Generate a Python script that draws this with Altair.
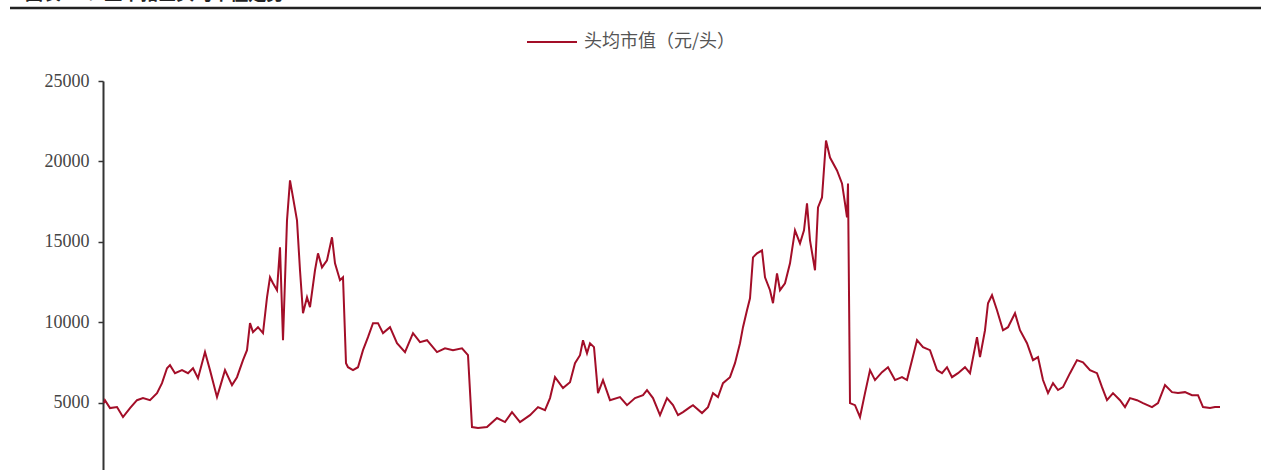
import altair as alt
import pandas as pd

# time position (relative units along the x axis) and value (元/头)
t = [0, 1, 6, 13, 19, 26, 33, 39, 46, 53, 58, 63, 66, 71, 78, 84, 89, 94, 101, 106,
     113, 116, 121, 128, 133, 139, 143, 146, 149, 154, 159, 163, 166, 169, 173, 176, 179, 183, 186, 189,
     193, 196, 199, 203, 206, 211, 214, 218, 223, 228, 231, 236, 239, 242, 244, 249, 254, 259, 264, 269,
     274, 279, 286, 293, 301, 309, 316, 323, 333, 341, 349, 358, 364, 368, 374, 383, 393, 401, 408, 416,
     426, 434, 441, 446, 451, 459, 466, 471, 476, 479, 483, 486, 490, 494, 499, 506, 516, 523, 531, 539,
     543, 549, 556, 563, 569, 574, 579, 586, 589, 598, 604, 609, 614, 619, 626, 631, 636, 639, 643, 646,
     649, 653, 658, 661, 666, 669, 673, 676, 681, 686, 691, 696, 700, 703, 706, 711, 714, 718, 722, 726,
     733, 738, 741, 743, 744, 746, 751, 756, 761, 766, 771, 778, 784, 791, 798, 803, 808, 813, 819, 826,
     833, 838, 843, 848, 854, 861, 866, 873, 876, 881, 884, 888, 893, 899, 904, 911, 916, 923, 929, 934,
     939, 944, 949, 954, 959, 966, 973, 979, 986, 993, 998, 1003, 1009, 1016, 1021, 1026, 1033, 1039, 1048, 1054,
     1061, 1068, 1074, 1081, 1088, 1094, 1099, 1106, 1111, 1116]
v = [4970, 5150, 4660, 4720, 4100, 4660, 5150, 5280, 5150, 5590, 6210, 7140, 7330, 6830, 7020, 6830, 7140, 6520, 8140, 7020,
     5340, 5960, 7020, 6090, 6580, 7640, 8260, 9940, 9380, 9690, 9320, 11550, 12790, 12420, 11990, 14660, 8880, 16330, 18820, 17760,
     16330, 13230, 10560, 11550, 10930, 13230, 14280, 13410, 13850, 15280, 13660, 12610, 12790, 7450, 7200, 7020, 7200, 8260, 9070, 9940,
     9940, 9320, 9690, 8690, 8140, 9320, 8760, 8880, 8140, 8380, 8260, 8380, 7950, 3480, 3420, 3480, 4040, 3790, 4410, 3790,
     4220, 4720, 4530, 5280, 6580, 5900, 6270, 7450, 7950, 8880, 8070, 8690, 8450, 5590, 6400, 5150, 5340, 4840, 5280, 5460,
     5780, 5280, 4220, 5280, 4840, 4220, 4410, 4720, 4840, 4350, 4720, 5590, 5340, 6210, 6580, 7450, 8690, 9690, 10740, 11490,
     14030, 14280, 14470, 12790, 11990, 11180, 13040, 11990, 12420, 13660, 15710, 14900, 15710, 17390, 15090, 13230, 17140, 17760, 21300, 20240,
     19440, 18630, 17390, 16520, 18630, 4970, 4840, 4100, 5590, 7020, 6400, 6890, 7200, 6400, 6580, 6400, 7640, 8880, 8450, 8260,
     7020, 6830, 7200, 6580, 6830, 7200, 6830, 9070, 7830, 9500, 11180, 11680, 10740, 9500, 9690, 10560, 9500, 8690, 7640, 7830,
     6400, 5590, 6210, 5780, 5960, 6830, 7640, 7510, 7020, 6830, 5960, 5150, 5590, 5150, 4720, 5280, 5150, 4970, 4720, 4970,
     6090, 5650, 5590, 5650, 5460, 5460, 4720, 4660, 4720, 4720]

y_ticks = [5000, 10000, 15000, 20000, 25000]
series_name = "头均市值（元/头）"
title_text = "图表 20：上市猪企头均市值走势"

LINE_COLOR = "#A30E28"

df = pd.DataFrame({"t": t, "v": v})
one = pd.DataFrame({"k": [0]})

x_scale = alt.Scale(domain=[-1, 1136], nice=False, zero=False)
y_scale = alt.Scale(domain=[808, 25000], nice=False, zero=False)

line = alt.Chart(df).mark_line(color=LINE_COLOR, strokeWidth=2).encode(
    x=alt.X("t:Q", scale=x_scale, axis=None),
    y=alt.Y("v:Q", scale=y_scale,
            axis=alt.Axis(values=y_ticks, title=None, grid=False, format="d",
                          labelFont="Liberation Serif", labelFontSize=18, labelColor="#444",
                          domainColor="#333", domainWidth=2, tickColor="#333", tickSize=5,
                          tickWidth=1.5, labelPadding=9)),
)

legend_line = alt.Chart(one).mark_rule(color=LINE_COLOR, strokeWidth=2).encode(
    x=alt.value(424), x2=alt.value(474), y=alt.value(-39)
)
legend_text = alt.Chart(one).mark_text(
    text=series_name, align="left", baseline="middle", font="Noto Sans CJK SC",
    fontSize=18, color="#555"
).encode(x=alt.value(481), y=alt.value(-39))

top_rule = alt.Chart(one).mark_rule(color="#222", strokeWidth=2.5).encode(
    x=alt.value(-93), x2=alt.value(1158), y=alt.value(-73)
)
top_text = alt.Chart(one).mark_text(
    text=title_text, align="left", baseline="bottom", font="Noto Sans CJK SC",
    fontSize=18, fontWeight="bold", color="#222"
).encode(x=alt.value(-78), y=alt.value(-77))

chart = alt.layer(line, legend_line, legend_text, top_rule, top_text).properties(
    width=1137, height=389,
    autosize=alt.AutoSizeParams(type="none"),
    padding={"left": 103, "top": 81, "right": 21, "bottom": 0},
    background="white",
).configure_view(stroke=None)

chart.save("out.html", embed_options={"renderer": "svg", "actions": False})
